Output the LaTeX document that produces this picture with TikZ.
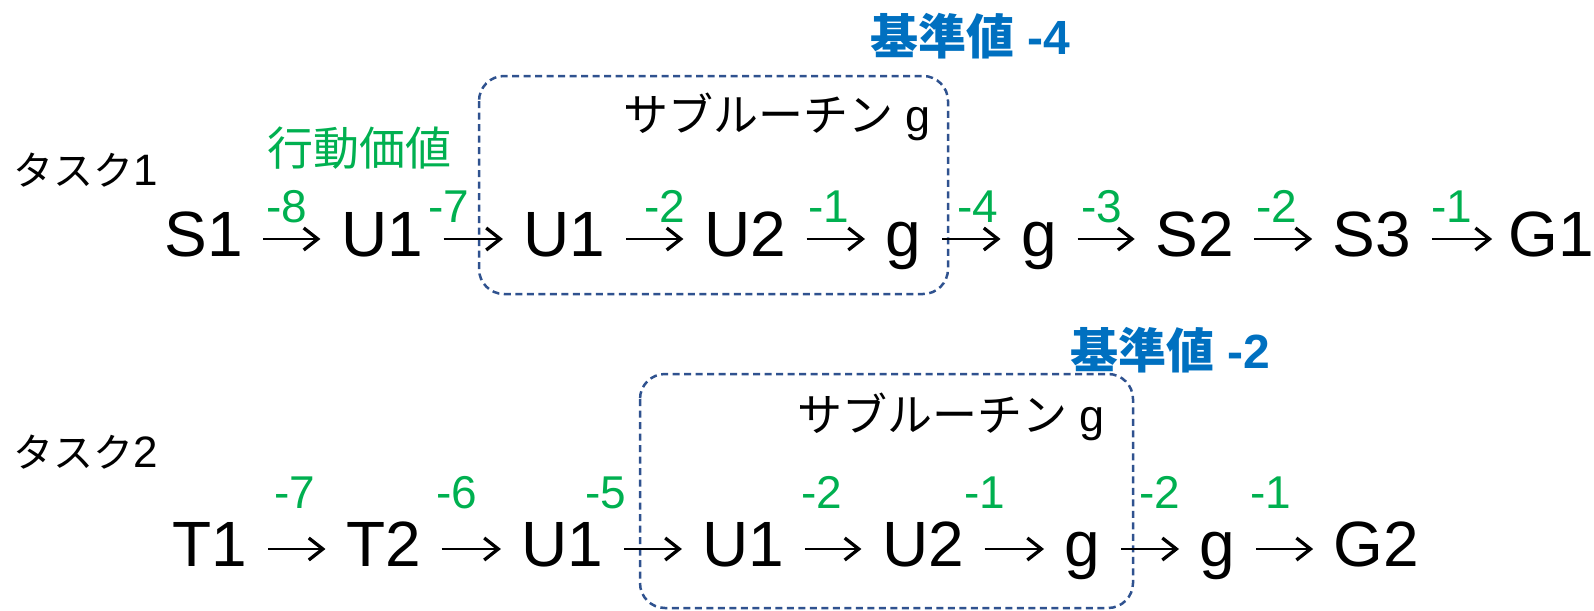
\documentclass[tikz,border=0pt]{standalone}
\usepackage{fontspec}
\setmainfont{Liberation Sans}
\newfontfamily\cjk{Noto Sans CJK JP}
\usetikzlibrary{arrows.meta}
\definecolor{valgreen}{RGB}{0,176,80}
\definecolor{baseblue}{RGB}{0,112,192}
\definecolor{boxblue}{RGB}{47,82,143}
\tikzset{
  tok/.style={font=\fontsize{64}{70}\selectfont, inner sep=0pt, text height=34pt, text depth=0pt, anchor=base},
  val/.style={font=\fontsize{46}{50}\selectfont, text=valgreen, inner sep=0pt, anchor=base},
  lbl/.style={inner sep=0pt, anchor=base west},
  arr/.style={line width=2.8pt, -{Straight Barb[length=14pt,width=22pt,line width=3.3pt]}, shorten <=20.5pt, shorten >=20.5pt},
  subbox/.style={draw=boxblue, line width=2.5pt, dash pattern=on 7pt off 4.5pt, rounded corners=25pt}
}
\begin{document}
\begin{tikzpicture}[x=1pt,y=-1pt]
\useasboundingbox (0,0) rectangle (1594,610);
% boxes
\draw[subbox] (479,76) rectangle (948,294);
\draw[subbox] (640,374) rectangle (1133,608);
% labels
\node[lbl, font=\fontsize{40}{44}\selectfont] (task1) at (13,185) {{\cjk タスク}{\fontsize{44}{48}\selectfont 1}};
\node[lbl, font=\fontsize{40}{44}\selectfont] (task2) at (13,467) {{\cjk タスク}{\fontsize{44}{48}\selectfont 2}};
\node[lbl, font=\fontsize{46}{50}\selectfont\cjk, text=valgreen] (qval) at (267,165) {行動価値};
\node[lbl, font=\fontsize{48}{52}\selectfont\bfseries, text=baseblue] (base1) at (870,55) {{\cjk 基準値} -4};
\node[lbl, font=\fontsize{48}{52}\selectfont\bfseries, text=baseblue] (base2) at (1070,368) {{\cjk 基準値} -2};
\node[lbl, font=\fontsize{45}{48}\selectfont] (sub1) at (623,131) {{\cjk サブルーチン} g};
\node[lbl, font=\fontsize{45}{48}\selectfont] (sub2) at (797,431) {{\cjk サブルーチン} g};
% row 1
\node[tok] (a1) at (203.5,256) {S1};
\node[tok] (a2) at (382,256) {U1};
\node[tok] (a3) at (564.5,256) {U1};
\node[tok] (a4) at (745,256) {U2};
\node[tok] (a5) at (903.5,256) {g};
\node[tok] (a6) at (1039,256) {g};
\node[tok] (a7) at (1194.5,256) {S2};
\node[tok] (a8) at (1372,256) {S3};
\node[tok] (a9) at (1551,256) {G1};
\foreach \i/\j in {a1/a2,a2/a3,a3/a4,a4/a5,a5/a6,a6/a7,a7/a8}
  \draw[arr] (\i) -- (\j);
\draw[arr, shorten >=16pt] (a8) -- (a9);
\node[val] (v1) at (287,222) {-8};
\node[val] (v2) at (449,222) {-7};
\node[val] (v3) at (664.5,222) {-2};
\node[val] (v4) at (828.5,222) {-1};
\node[val] (v5) at (977.5,222) {-4};
\node[val] (v6) at (1101.5,222) {-3};
\node[val] (v7) at (1276.5,222) {-2};
\node[val] (v8) at (1451.5,222) {-1};
% row 2
\node[tok] (b1) at (210,566) {T1};
\node[tok] (b2) at (383.5,566) {T2};
\node[tok] (b3) at (562.5,566) {U1};
\node[tok] (b4) at (743.5,566) {U1};
\node[tok] (b5) at (923,566) {U2};
\node[tok] (b6) at (1082.5,566) {g};
\node[tok] (b7) at (1217.5,566) {g};
\node[tok] (b8) at (1376.5,566) {G2};
\foreach \i/\j in {b1/b2,b2/b3,b3/b4,b4/b5,b5/b6,b6/b7,b7/b8}
  \draw[arr] (\i) -- (\j);
\node[val] (w1) at (295,508) {-7};
\node[val] (w2) at (456.5,508) {-6};
\node[val] (w3) at (606,508) {-5};
\node[val] (w4) at (822,508) {-2};
\node[val] (w5) at (984.5,508) {-1};
\node[val] (w6) at (1160,508) {-2};
\node[val] (w7) at (1270.5,508) {-1};
\end{tikzpicture}
\end{document}
